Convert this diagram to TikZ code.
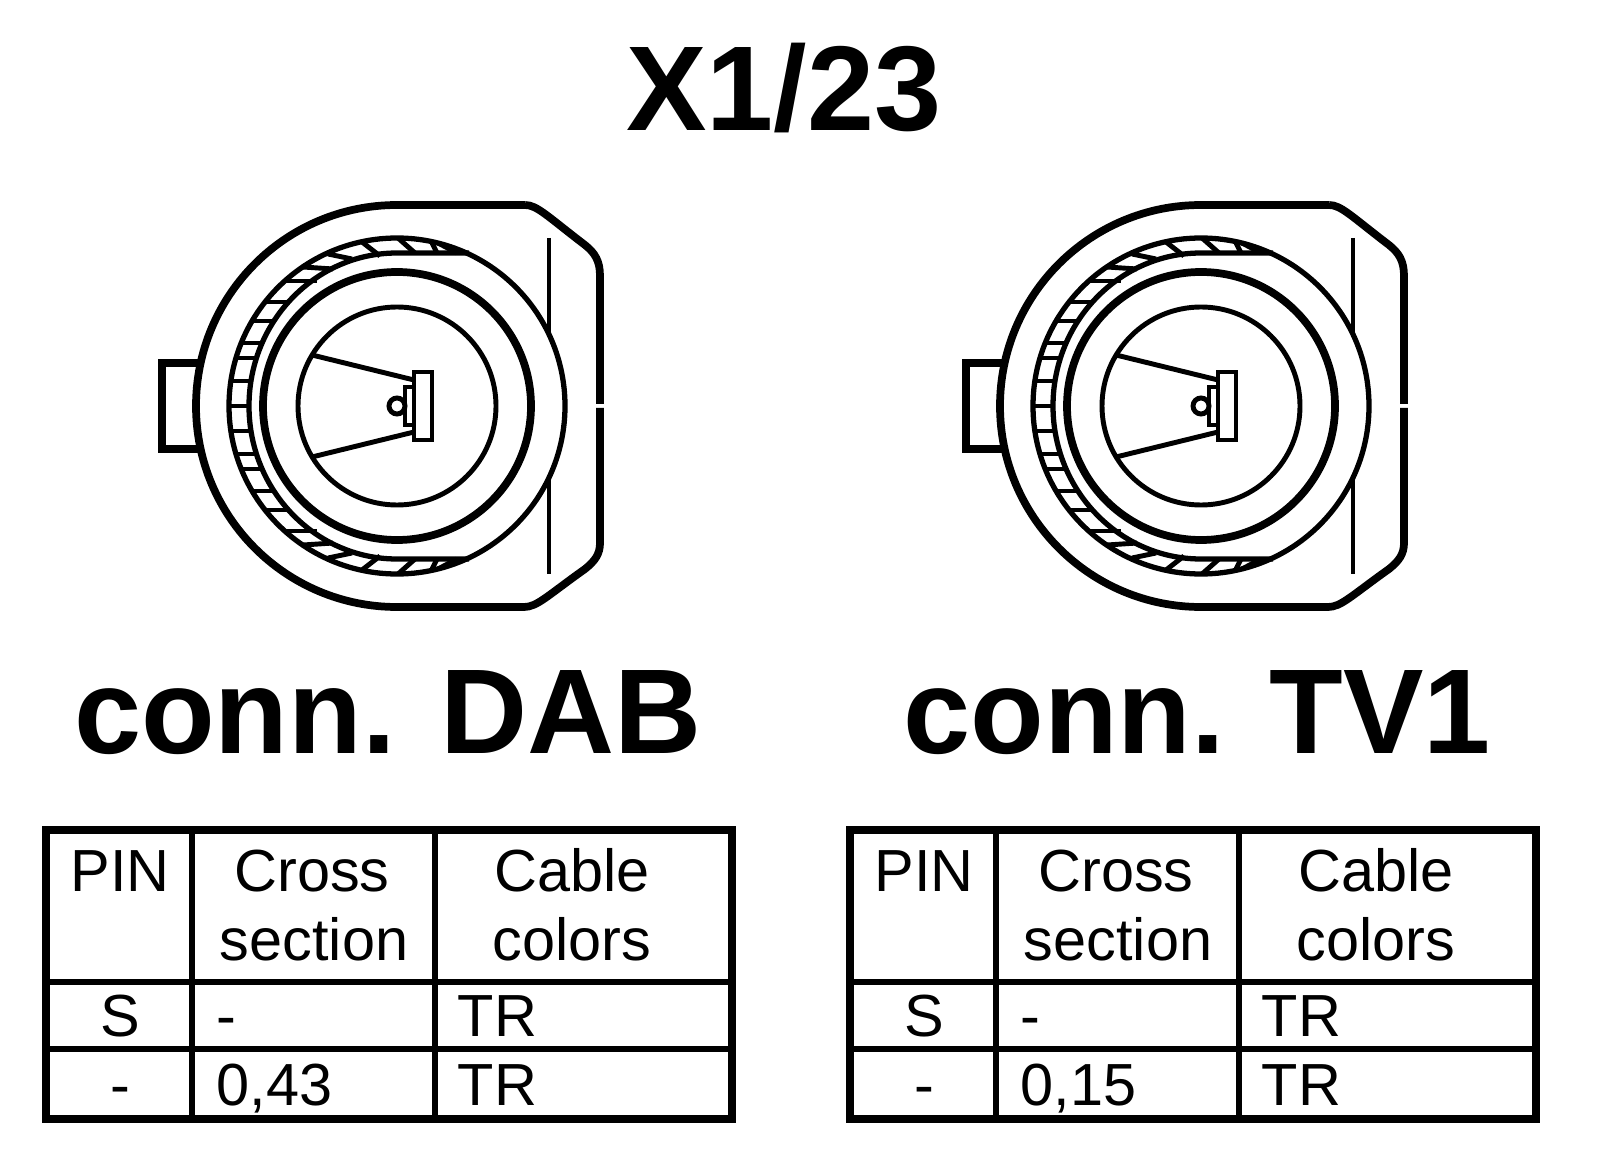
\documentclass[tikz,border=0pt]{standalone}
\usepackage{fontspec}
\setmainfont{Liberation Sans}
\tikzset{fine line/.style = {line width = 1.4pt}}
\tikzset{heavy line/.style = {line width = 2.2pt}}
\tikzset{cell/.style = {font = \fontsize{16.9}{16.9}\selectfont, anchor = base, inner sep = 0}}
\tikzset{cell left/.style = {cell, anchor = base west}}
\tikzset{heading/.style = {font = \fontsize{34.3}{34.3}\selectfont\bfseries, anchor = base, inner sep = 0}}
\begin{document}
\begin{tikzpicture}[x = 0.01cm, y = -0.01cm]
    \useasboundingbox (0,0) rectangle (1600,1164);
    \node [heading] (title) at (784,131) {X1/23};
    \node [heading] (dab) at (388,753) {conn. DAB};
    \node [heading] (tvone) at (1197,753) {conn. TV1};
    \foreach \dx/\sect/\nm in {0/0{,}43/a, 804/0{,}15/b} {
    \begin{scope}[xshift = \dx*0.01cm]
        % connector
        \begin{scope}[shift = {(397,406)}]
            \draw [heavy line] (128,-201) -- (0,-201) arc (270:90:201) -- (127,201)
                .. controls (140,201) and (150,190) .. (188,163)
                .. controls (198,155) and (203,148) .. (203,137) -- (203,2);
            \draw [heavy line] (128,-201)
                .. controls (140,-201) and (150,-190) .. (188,-161)
                .. controls (198,-153) and (203,-145) .. (203,-130) -- (203,-2);
            \draw [heavy line] (-196,-43) -- (-235,-43) -- (-235,43) -- (-196,43);
            \draw [fine line] (152,-168) -- (152,-73) (152,73) -- (152,168);
            % ring and its cells
            \draw [line width = 1.5pt] circle [radius = 168];
            \draw [line width = 1.5pt] (72,-153) -- (0,-153) arc (270:90:148 and 153) -- (72,153);
            \draw [fine line] (-168,0) -- (-148,0);
            \foreach \s in {1,-1} {
                \foreach \ax/\ay/\bx/\by in {-166/25/-146/25, -161/48/-140/48, -156/63/-134/63,
                        -145/85/-121/85, -133/104/-107/104, -112/125/-80/125, -94/139/-64/137,
                        -69/152/-45/147, -35/164/-17/150, 1/168/18/153, 34/165/40/153, 41/163/60/153} {
                    \draw [fine line] (\ax,\s*\ay) -- (\bx,\s*\by);
                }
            }
            % bore and contact
            \draw [heavy line] circle [radius = 134];
            \draw [fine line] circle [radius = 99];
            \draw [fine line] (-85,-51) -- (17,-26) (-85,51) -- (17,26);
            \draw [fine line] (17,-34) rectangle (35,34);
            \draw [fine line] (8,-19) rectangle (17,19);
            \draw [fine line] circle [radius = 8];
        \end{scope}
        % table
        \draw [line width = 2.2pt] (46,830) rectangle (732,1119);
        \draw [line width = 1.6pt] (192,830) -- (192,1119) (435,830) -- (435,1119);
        \draw [line width = 1.6pt] (46,982) -- (732,982) (46,1049) -- (732,1049);
        \node [cell] (pin\nm) at (120,891) {PIN};
        \node [cell] (cross\nm) at (312,891) {Cross};
        \node [cell] (section\nm) at (314,960) {section};
        \node [cell] (cable\nm) at (572,891) {Cable};
        \node [cell] (colors\nm) at (572,960) {colors};
        \node [cell] (pinone\nm) at (120,1036) {S};
        \node [cell left] (areaone\nm) at (216,1036) {-};
        \node [cell left] (colorone\nm) at (457,1036) {TR};
        \node [cell] (pintwo\nm) at (120,1105) {-};
        \node [cell left] (areatwo\nm) at (216,1105) {\sect};
        \node [cell left] (colortwo\nm) at (457,1105) {TR};
    \end{scope}
    }
\end{tikzpicture}
\end{document}
